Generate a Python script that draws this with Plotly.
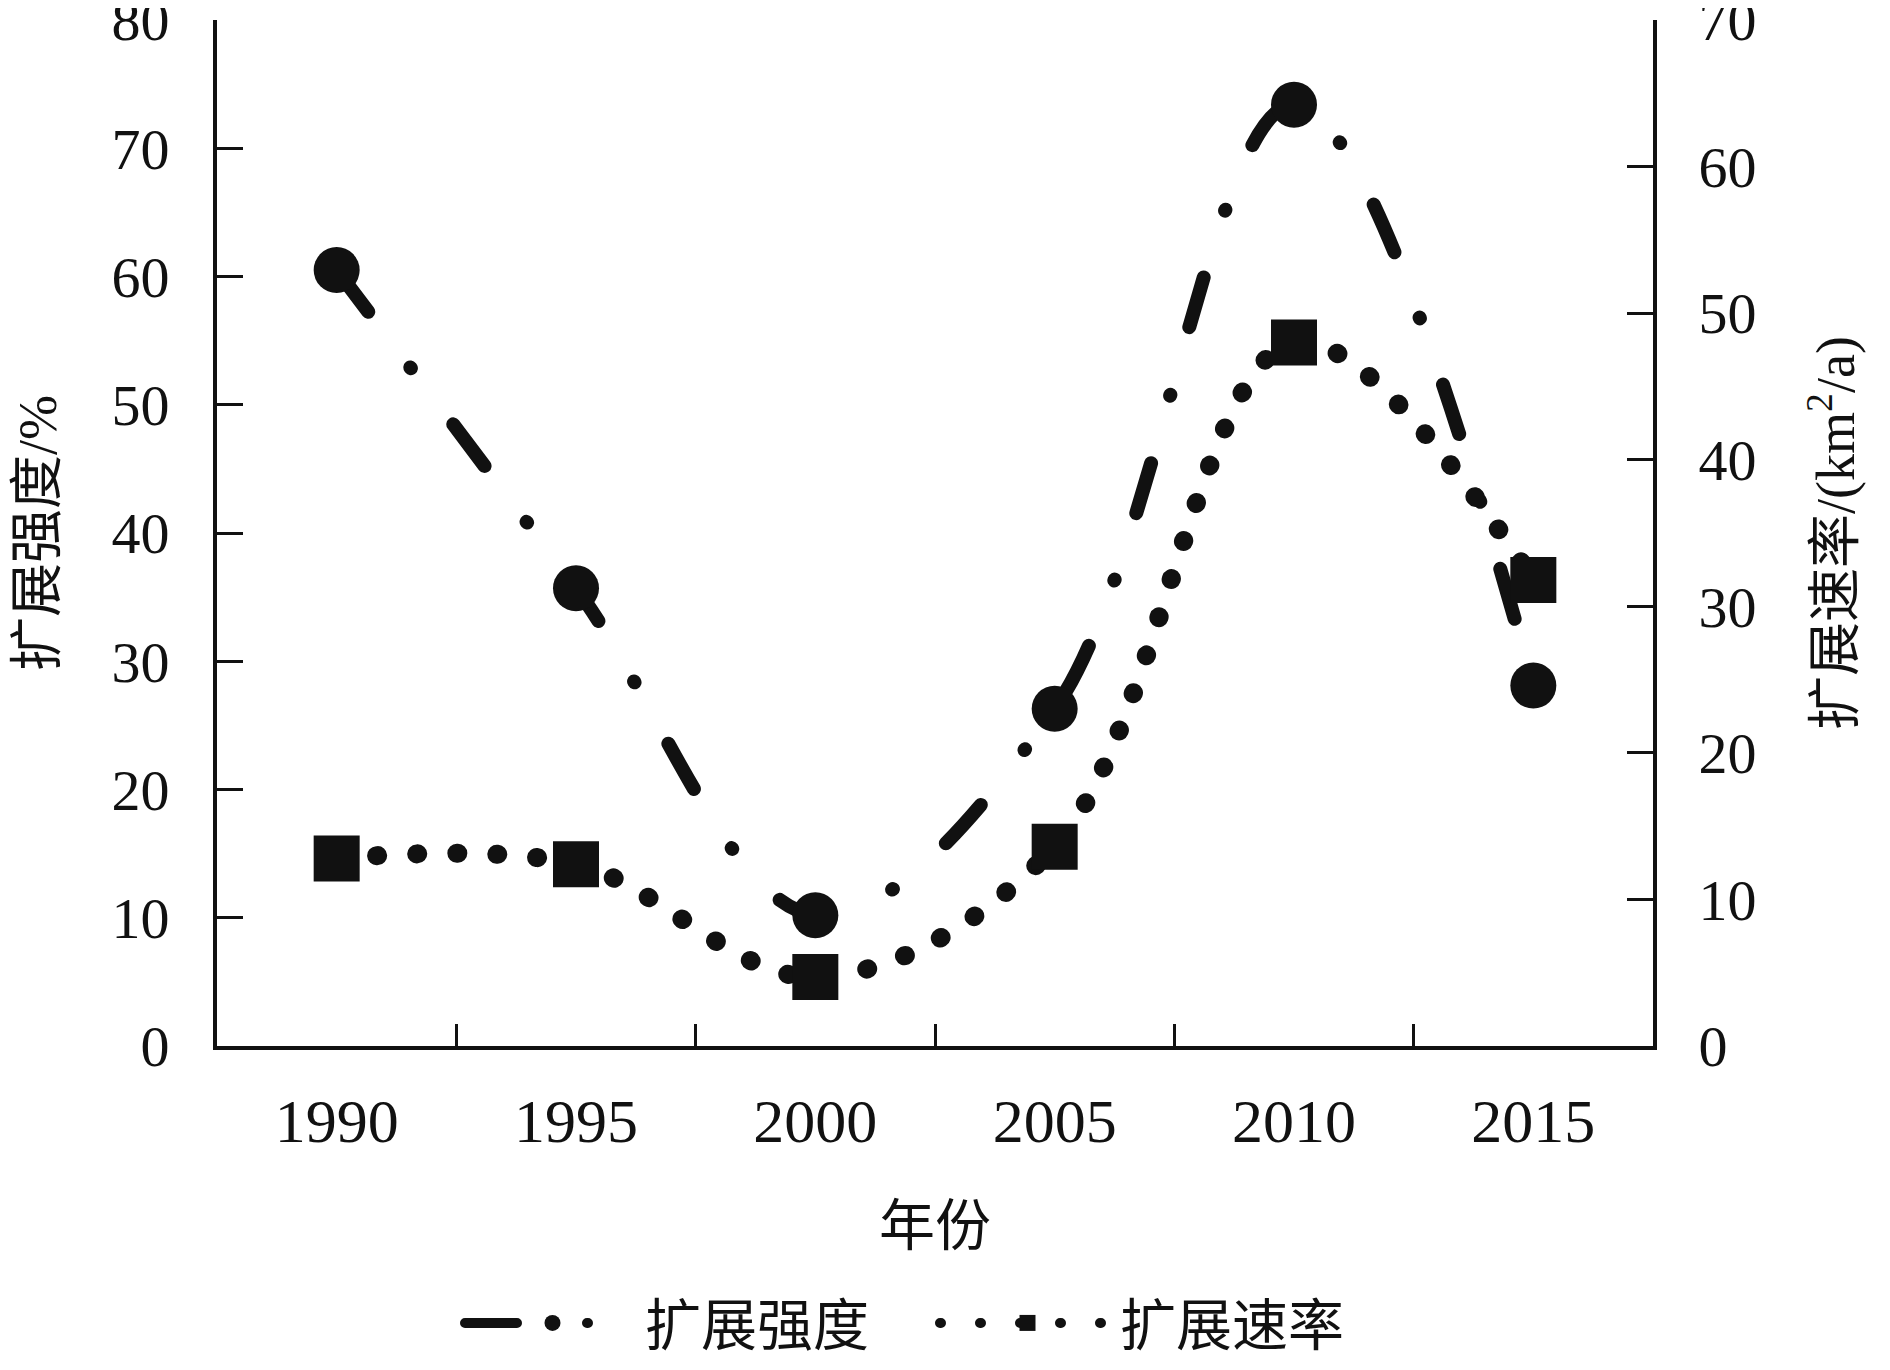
import plotly.graph_objects as go

years = ["1990", "1995", "2000", "2005", "2010", "2015"]
intensity = [60.5, 35.7, 10.2, 26.3, 73.4, 28.1]   # 扩展强度 /%
rate = [12.8, 12.4, 4.7, 13.6, 48.0, 31.8]          # 扩展速率 /(km2/a)

font_main = "Liberation Serif, Noto Sans CJK SC"
ink = "#111111"

fig = go.Figure()
fig.add_trace(go.Scatter(
    x=years, y=intensity, name="扩展强度", yaxis="y",
    mode="lines+markers",
    line=dict(color=ink, width=14, shape="spline", dash="52px,70px,1px,70px"),
    marker=dict(symbol="circle", size=46, color=ink),
))
fig.add_trace(go.Scatter(
    x=years, y=rate, name="扩展速率", yaxis="y2",
    mode="lines+markers",
    line=dict(color=ink, width=19, shape="spline", dash="1px,39px"),
    marker=dict(symbol="square", size=46, color=ink),
))

axis_common = dict(
    showline=True, linecolor=ink, linewidth=4,
    ticks="inside", tickcolor=ink, tickwidth=3,
    showgrid=False, zeroline=False,
    ticklabeloverflow="allow", automargin=False,
)

fig.update_layout(
    width=1890, height=1370,
    margin=dict(l=209, r=245, t=12, b=319),
    plot_bgcolor="white", paper_bgcolor="white",
    font=dict(family=font_main, size=58, color=ink),
    xaxis=dict(
        **axis_common, type="category", tickson="boundaries",
        range=[-0.5, 5.5], ticklen=22,
        tickfont=dict(size=62), ticklabelstandoff=18,
        title=dict(text="年份", font=dict(size=56), standoff=52),
    ),
    yaxis=dict(
        **axis_common, range=[0, 80], dtick=10, ticklen=26,
        tickfont=dict(size=58), ticklabelstandoff=32,
        title=dict(text="扩展强度/%", font=dict(size=54), standoff=40),
    ),
    yaxis2=dict(
        **axis_common, range=[0, 70], dtick=10, ticklen=26,
        overlaying="y", side="right",
        tickfont=dict(size=58), ticklabelstandoff=30,
        title=dict(text="扩展速率/(km<sup>2</sup>/a)", font=dict(size=54), standoff=62),
    ),
    showlegend=True,
    legend=dict(
        orientation="h", x=0.5, xanchor="center", y=-0.27, yanchor="middle",
        font=dict(size=56), itemwidth=175, entrywidth=285,
        bgcolor="rgba(0,0,0,0)",
    ),
)

round_caps = (
    "var s=document.createElement('style');"
    "s.innerHTML='.js-line{stroke-linecap:round;}';"
    "document.head.appendChild(s);"
)
fig.write_html("out.html", post_script=round_caps)
